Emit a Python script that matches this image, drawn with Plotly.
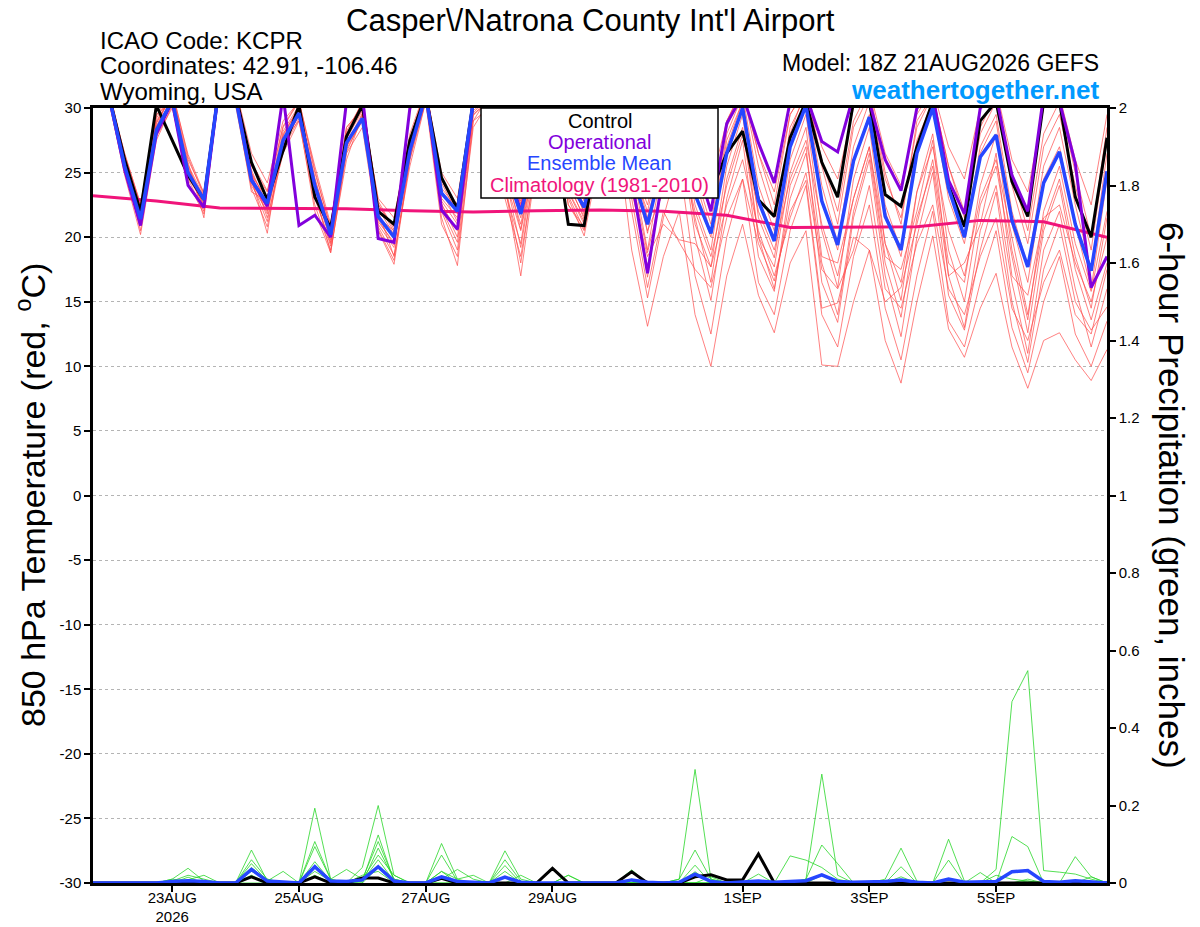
import pandas as pd
import plotly.graph_objects as go
from plotly.subplots import make_subplots

# 6-hourly GEFS times, 21AUG2026 18Z to 6SEP2026 18Z
times = pd.date_range("2026-08-21 18:00", periods=65, freq="6h")
clim_times = pd.date_range("2026-08-21 18:00", periods=17, freq="D")

# 850 hPa temperature (deg C)
t_control = [33.5, 31.0, 26.0, 22.0, 30.2, 27.5, 24.8, 22.9, 32.0, 31.0, 25.8, 22.9, 26.7, 30.2, 23.1, 20.7, 27.8,
             30.2, 22.0, 21.0, 27.5, 31.0, 24.6, 22.2, 30.5, 31.5, 26.5, 23.5, 27.5, 29.0, 21.0, 20.9, 28.0,
             30.0, 26.5, 23.5, 27.0, 30.0, 26.5, 23.5, 26.5, 28.2, 22.9, 21.6, 27.7, 30.5, 25.8, 23.1, 30.5,
             30.5, 23.3, 22.4, 27.0, 30.5, 24.0, 20.8, 29.0, 30.5, 24.3, 21.6, 30.5, 30.5, 23.1, 20.0, 27.7]
t_oper = [33.0, 31.0, 25.2, 20.9, 28.0, 30.5, 24.0, 22.3, 32.0, 31.0, 24.5, 22.4, 31.0, 20.9, 21.7, 20.0, 30.5,
          31.0, 19.9, 19.6, 30.0, 31.5, 22.1, 20.6, 30.5, 31.0, 26.0, 22.0, 27.0, 30.0, 26.0, 24.0, 28.0,
          30.0, 24.5, 17.2, 25.0, 30.0, 26.0, 22.0, 28.8, 31.0, 27.3, 24.2, 30.5, 31.0, 27.4, 26.6, 31.0,
          30.5, 26.0, 23.6, 30.0, 31.0, 24.4, 21.8, 30.0, 31.0, 24.8, 22.0, 31.0, 30.5, 25.7, 16.1, 18.5]
t_mean = [33.0, 31.0, 25.5, 21.4, 28.3, 30.6, 25.0, 22.9, 32.0, 30.8, 24.4, 22.6, 27.5, 29.6, 24.0, 20.2, 27.3,
          29.2, 21.6, 20.0, 26.7, 31.0, 23.4, 22.0, 30.5, 31.0, 25.5, 21.8, 27.0, 30.5, 24.5, 22.3, 27.5,
          30.0, 25.0, 21.0, 26.0, 29.5, 23.3, 20.3, 26.5, 30.0, 22.8, 19.7, 27.0, 30.2, 22.8, 19.4, 25.9,
          29.3, 21.6, 19.0, 26.5, 30.0, 23.8, 20.0, 26.2, 27.9, 21.3, 17.7, 24.2, 26.6, 21.0, 17.4, 25.1]
t_clim = [23.2, 22.8, 22.25, 22.25, 22.2, 22.05, 21.95, 22.05, 22.1, 22.0, 21.7, 20.75, 20.8, 20.8, 21.3, 21.2, 20.0]

t_m01 = [33.5, 31.5, 26.0, 22.0, 29.0, 31.0, 26.0, 23.4, 32.5, 31.5, 25.5, 23.5, 28.5, 30.5, 25.0, 20.8, 28.0,
         30.5, 22.5, 20.8, 27.5, 31.5, 24.5, 22.5, 31.0, 31.5, 27.0, 23.0, 28.5, 31.0, 26.0, 23.5, 28.5,
         31.5, 27.0, 23.5, 28.5, 31.5, 27.0, 24.0, 29.0, 31.5, 26.5, 23.5, 29.5, 31.5, 27.0, 24.5, 30.0,
         31.5, 26.5, 24.0, 29.5, 31.5, 27.0, 24.5, 30.0, 31.5, 26.0, 23.5, 30.0, 31.0, 26.0, 22.5, 29.5]
t_m02 = [33.0, 30.5, 25.0, 21.0, 28.0, 30.5, 25.5, 22.8, 32.0, 30.5, 24.0, 22.0, 27.0, 29.5, 23.0, 19.5, 27.0,
         29.0, 21.0, 19.2, 26.5, 30.5, 22.5, 20.5, 29.5, 30.5, 24.5, 20.5, 26.5, 30.0, 23.5, 21.0, 27.0,
         29.0, 19.0, 13.1, 18.5, 22.0, 14.0, 10.0, 17.0, 21.0, 15.5, 12.6, 18.0, 20.5, 10.1, 10.0, 15.0,
         19.0, 12.0, 8.7, 15.0, 20.1, 12.9, 10.7, 14.5, 17.2, 11.5, 8.3, 12.0, 12.6, 10.5, 8.9, 11.3]
t_m03 = [32.5, 31.0, 26.5, 22.5, 27.8, 30.0, 24.5, 22.0, 31.5, 31.0, 25.0, 21.5, 26.5, 29.0, 22.5, 19.0, 26.0,
         29.5, 22.0, 18.5, 26.0, 31.0, 21.5, 17.8, 29.0, 31.0, 23.5, 19.5, 27.5, 30.5, 22.5, 20.5, 27.5,
         30.5, 24.0, 17.7, 24.5, 28.5, 20.0, 15.1, 23.0, 27.5, 18.5, 15.8, 24.0, 27.0, 16.5, 13.4, 21.5,
         26.0, 17.0, 12.3, 20.0, 25.0, 15.5, 12.8, 19.0, 23.5, 15.0, 10.3, 17.5, 21.0, 15.0, 12.8, 14.6]
t_m04 = [34.0, 31.5, 25.5, 20.5, 28.5, 31.5, 25.0, 23.2, 32.5, 31.0, 24.5, 20.3, 28.0, 30.0, 24.5, 20.5, 28.5,
         30.0, 21.5, 20.5, 27.0, 31.5, 23.0, 21.5, 30.0, 31.5, 25.5, 21.5, 27.0, 31.0, 24.5, 22.0, 28.0,
         31.0, 25.5, 19.0, 26.0, 30.5, 22.5, 19.0, 27.0, 30.5, 21.5, 18.4, 26.0, 29.5, 20.5, 16.1, 24.5,
         28.5, 19.5, 15.1, 23.5, 28.0, 19.0, 15.0, 22.5, 25.5, 18.5, 12.6, 20.5, 24.0, 17.5, 13.6, 18.0]
t_m05 = [33.0, 31.0, 25.0, 21.8, 29.5, 30.5, 25.8, 21.5, 32.0, 30.5, 23.5, 22.8, 27.5, 29.0, 23.5, 18.8, 26.5,
         28.5, 20.5, 17.9, 26.0, 30.5, 22.0, 19.0, 29.0, 30.0, 24.0, 17.0, 26.0, 29.5, 23.0, 20.1, 26.5,
         30.5, 23.0, 16.1, 22.0, 19.6, 17.5, 16.1, 21.5, 24.5, 19.5, 16.6, 22.0, 24.4, 14.5, 14.9, 20.0,
         19.0, 15.0, 16.1, 21.0, 26.0, 18.0, 16.5, 24.0, 28.0, 19.0, 13.6, 22.0, 25.5, 19.5, 15.8, 22.0]
t_m06 = [33.5, 30.8, 26.2, 22.4, 28.8, 31.0, 24.8, 22.5, 32.0, 31.5, 26.5, 24.2, 29.0, 30.5, 25.5, 21.0, 28.5,
         30.0, 23.0, 21.5, 28.0, 31.5, 25.0, 23.0, 30.5, 31.5, 26.5, 22.5, 28.0, 30.5, 25.5, 22.8, 28.0,
         31.5, 26.5, 20.3, 27.0, 30.5, 24.5, 20.3, 28.0, 31.0, 24.0, 20.5, 28.5, 31.0, 24.0, 19.6, 27.0,
         30.5, 22.5, 19.0, 27.5, 30.5, 24.0, 20.0, 27.0, 29.5, 22.0, 17.7, 25.5, 28.5, 22.5, 17.5, 26.5]
t_m07 = [32.8, 30.6, 24.8, 20.2, 27.5, 30.2, 24.2, 21.8, 31.8, 30.2, 23.8, 20.8, 26.8, 29.2, 22.0, 18.8, 27.0,
         29.5, 20.8, 18.6, 25.5, 30.5, 21.0, 18.5, 28.5, 30.5, 23.0, 18.5, 26.0, 30.0, 22.5, 20.8, 27.0,
         30.0, 24.5, 16.9, 25.0, 29.0, 21.0, 17.7, 25.5, 29.5, 20.0, 17.7, 25.0, 28.5, 18.5, 18.0, 23.0,
         27.0, 18.5, 17.5, 22.0, 27.5, 17.0, 18.0, 21.0, 26.5, 17.0, 15.5, 21.5, 22.5, 18.0, 15.0, 20.0]
t_m08 = [33.2, 31.2, 25.8, 21.6, 28.2, 30.8, 25.3, 23.0, 32.2, 31.2, 24.8, 23.0, 28.2, 30.2, 24.2, 20.0, 27.6,
         29.8, 22.2, 20.2, 27.2, 31.2, 23.8, 22.2, 30.2, 31.2, 25.8, 22.2, 27.8, 30.8, 24.8, 22.5, 28.2,
         31.5, 25.5, 22.0, 27.5, 31.0, 25.0, 21.0, 28.5, 31.5, 25.5, 21.5, 28.0, 31.5, 25.5, 21.0, 28.5,
         31.0, 24.5, 21.5, 28.5, 31.0, 25.5, 21.5, 28.0, 30.5, 24.0, 19.5, 27.0, 29.5, 24.0, 19.0, 27.5]
t_m09 = [33.0, 30.8, 25.2, 21.2, 28.0, 30.4, 24.6, 22.6, 31.8, 30.6, 24.2, 22.2, 27.2, 29.4, 23.5, 19.8, 26.8,
         29.0, 21.2, 19.6, 26.4, 30.8, 22.8, 21.0, 29.8, 30.8, 25.0, 21.0, 27.0, 30.2, 24.0, 21.6, 27.6,
         30.0, 23.5, 18.5, 21.0, 19.8, 19.5, 17.7, 22.5, 26.0, 20.5, 17.0, 21.5, 25.0, 17.5, 16.0, 19.0,
         24.0, 16.0, 14.5, 19.5, 22.5, 16.0, 14.0, 18.5, 21.5, 14.5, 12.0, 16.5, 19.0, 14.0, 12.5, 17.5]
t_m10 = [33.8, 31.4, 26.4, 22.6, 29.2, 31.2, 26.4, 23.4, 32.6, 31.6, 25.2, 22.4, 27.8, 30.0, 23.8, 20.4, 27.8,
         30.2, 22.8, 20.6, 27.6, 31.4, 24.2, 21.8, 30.4, 31.4, 26.2, 22.8, 28.6, 31.0, 25.2, 21.8, 28.4,
         31.0, 26.0, 21.5, 26.5, 30.0, 23.5, 20.0, 27.5, 30.5, 23.0, 20.0, 27.5, 30.5, 23.0, 19.0, 26.0,
         29.5, 22.0, 18.5, 26.5, 30.0, 23.0, 19.5, 26.5, 29.0, 21.0, 16.5, 24.5, 27.0, 21.0, 16.0, 24.5]
t_m11 = [33.2, 30.9, 25.6, 21.0, 28.6, 30.7, 25.2, 22.2, 32.1, 30.9, 24.6, 21.8, 27.4, 29.8, 24.2, 19.6, 27.2,
         29.6, 21.4, 19.4, 26.8, 31.0, 22.6, 20.0, 29.6, 31.0, 24.8, 19.2, 26.6, 30.4, 23.6, 21.2, 27.2,
         30.5, 25.0, 20.5, 23.5, 27.0, 22.0, 18.5, 24.0, 28.0, 22.0, 19.0, 24.5, 27.5, 21.0, 17.0, 23.0,
         27.0, 19.5, 16.5, 23.5, 27.0, 20.5, 17.0, 23.0, 26.0, 20.0, 14.0, 21.0, 24.5, 18.5, 14.5, 21.5]
t_m12 = [33.6, 31.2, 26.0, 22.2, 29.4, 31.4, 26.2, 23.2, 32.4, 31.4, 25.8, 23.6, 28.6, 30.6, 25.2, 20.6, 28.2,
         30.4, 22.6, 20.4, 27.4, 31.6, 24.4, 22.4, 30.8, 31.6, 26.4, 22.6, 28.4, 31.2, 25.6, 23.0, 28.6,
         31.5, 26.0, 22.5, 28.0, 31.5, 25.5, 22.0, 29.0, 31.5, 26.5, 22.5, 29.5, 31.5, 26.0, 22.0, 29.0,
         31.5, 25.0, 21.0, 29.0, 31.0, 25.5, 22.0, 28.5, 31.0, 25.0, 20.5, 28.0, 30.5, 25.0, 20.0, 28.5]
t_m13 = [33.1, 30.7, 25.4, 21.6, 28.4, 30.6, 25.1, 22.4, 31.9, 30.7, 24.3, 21.2, 27.1, 29.5, 23.3, 19.3, 26.6,
         29.3, 20.6, 18.2, 26.2, 30.9, 22.2, 19.6, 29.4, 30.9, 24.2, 18.0, 26.3, 30.1, 23.2, 20.6, 27.3,
         29.5, 22.0, 15.3, 21.5, 26.0, 17.0, 12.5, 20.0, 24.5, 16.5, 14.0, 20.5, 24.0, 14.0, 11.5, 18.5,
         22.5, 14.5, 10.5, 17.0, 22.0, 13.5, 11.5, 16.5, 20.5, 13.0, 9.5, 15.0, 18.5, 12.5, 10.0, 13.5]
t_m14 = [33.4, 31.1, 25.9, 21.9, 28.9, 30.9, 25.6, 23.1, 32.3, 31.1, 25.0, 22.6, 27.9, 30.1, 24.6, 20.3, 27.9,
         29.9, 21.8, 19.9, 27.1, 31.3, 23.6, 21.2, 30.1, 31.2, 25.4, 20.6, 27.4, 30.6, 24.3, 21.4, 27.9,
         30.5, 24.5, 18.8, 24.0, 27.5, 21.5, 16.5, 24.5, 28.5, 20.0, 16.0, 23.0, 26.5, 18.0, 14.0, 22.0,
         26.5, 18.0, 13.8, 21.5, 25.5, 17.0, 13.0, 20.5, 24.0, 16.5, 11.0, 19.0, 22.0, 16.0, 11.5, 16.0]

# 6-hour precipitation (inches)
p_control = [0, 0, 0, 0, 0, 0, 0, 0, 0, 0, 0.016, 0, 0, 0, 0.016, 0, 0,
             0.013, 0.013, 0, 0, 0, 0.012, 0, 0, 0, 0, 0, 0, 0.038, 0, 0, 0,
             0, 0.029, 0, 0, 0, 0.016, 0.021, 0.008, 0.008, 0.075, 0, 0, 0, 0, 0, 0,
             0, 0, 0, 0, 0, 0, 0, 0, 0, 0, 0, 0, 0, 0, 0, 0]
p_mean = [0, 0, 0, 0, 0, 0.004, 0.006, 0.004, 0, 0, 0.035, 0.005, 0.003, 0, 0.042, 0.005, 0.004,
          0.008, 0.042, 0.005, 0, 0, 0.016, 0.004, 0.002, 0, 0.015, 0.002, 0, 0, 0.002, 0, 0,
          0, 0.008, 0.002, 0, 0.002, 0.023, 0.004, 0, 0.002, 0.005, 0.002, 0.004, 0.006, 0.021, 0.004, 0.002,
          0.002, 0.004, 0.008, 0.002, 0, 0.01, 0.002, 0.002, 0.004, 0.029, 0.032, 0.004, 0.002, 0.006, 0.004, 0]
p_m01 = [0, 0, 0, 0, 0, 0, 0, 0, 0, 0, 0.085, 0.005, 0, 0, 0.193, 0.01, 0,
         0.005, 0.124, 0.005, 0, 0, 0.03, 0, 0, 0, 0, 0, 0, 0, 0, 0, 0,
         0, 0, 0, 0, 0.01, 0.293, 0.01, 0, 0, 0, 0, 0, 0, 0, 0, 0,
         0, 0, 0, 0, 0, 0, 0, 0, 0, 0, 0, 0, 0, 0, 0, 0]
p_m02 = [0, 0, 0, 0, 0, 0.01, 0.038, 0.005, 0, 0, 0.06, 0.01, 0, 0, 0.107, 0.01, 0,
         0.04, 0.2, 0.02, 0, 0, 0.102, 0.01, 0, 0, 0.06, 0.005, 0, 0, 0, 0, 0,
         0, 0.01, 0, 0, 0, 0, 0, 0, 0, 0, 0, 0, 0, 0, 0, 0,
         0, 0, 0, 0, 0, 0, 0, 0, 0, 0, 0.005, 0, 0, 0, 0, 0]
p_m03 = [0, 0, 0, 0, 0, 0.01, 0.005, 0, 0, 0, 0.05, 0.005, 0, 0, 0.094, 0.01, 0.035,
         0.01, 0.107, 0.01, 0, 0, 0.072, 0.005, 0, 0, 0.083, 0.01, 0, 0, 0, 0, 0,
         0, 0, 0, 0, 0, 0, 0, 0, 0, 0, 0, 0, 0.01, 0.281, 0.02, 0,
         0, 0, 0, 0, 0, 0, 0, 0, 0, 0, 0, 0, 0, 0, 0, 0]
p_m04 = [0, 0, 0, 0, 0, 0, 0.008, 0.02, 0, 0, 0.04, 0.005, 0.03, 0, 0.055, 0.005, 0,
         0, 0.09, 0.01, 0, 0, 0.01, 0.035, 0.01, 0, 0.045, 0, 0, 0, 0, 0, 0,
         0, 0, 0, 0, 0, 0, 0, 0, 0, 0, 0, 0.07, 0.059, 0.04, 0.01, 0,
         0, 0, 0, 0, 0, 0, 0, 0, 0.035, 0.468, 0.548, 0.032, 0.028, 0.023, 0.01, 0]
p_m05 = [0, 0, 0, 0, 0, 0.005, 0.02, 0.01, 0, 0, 0.03, 0.01, 0, 0, 0.046, 0.005, 0,
         0.01, 0.072, 0.02, 0, 0, 0.03, 0.01, 0.02, 0, 0.03, 0, 0, 0, 0, 0, 0,
         0, 0, 0, 0, 0.01, 0.085, 0.01, 0, 0, 0, 0, 0, 0, 0, 0, 0,
         0, 0.01, 0.09, 0.005, 0, 0.113, 0.005, 0, 0, 0, 0, 0, 0, 0, 0, 0]
p_m06 = [0, 0, 0, 0, 0, 0, 0, 0, 0, 0, 0.02, 0, 0, 0, 0.03, 0.005, 0,
         0.005, 0.06, 0.005, 0, 0, 0, 0, 0, 0, 0, 0, 0, 0, 0.02, 0, 0,
         0, 0.034, 0, 0, 0, 0.046, 0, 0, 0, 0, 0, 0, 0.01, 0.098, 0.05, 0,
         0, 0, 0.042, 0, 0, 0.059, 0, 0, 0, 0.12, 0.094, 0, 0, 0.068, 0.016, 0]
p_m07 = [0, 0, 0, 0, 0, 0, 0, 0, 0, 0, 0, 0, 0, 0, 0.02, 0, 0,
         0, 0.04, 0, 0, 0, 0, 0, 0, 0, 0, 0.02, 0, 0, 0, 0, 0,
         0, 0, 0, 0, 0, 0.029, 0, 0, 0, 0.023, 0, 0, 0, 0, 0, 0,
         0, 0, 0.016, 0, 0, 0, 0, 0, 0.02, 0.01, 0.005, 0, 0, 0, 0.016, 0]
p_m08 = [0, 0, 0, 0, 0, 0, 0.015, 0, 0, 0, 0.015, 0, 0, 0, 0.015, 0, 0,
         0.02, 0.03, 0, 0, 0, 0.015, 0, 0, 0, 0, 0, 0, 0, 0.02, 0, 0,
         0, 0, 0, 0, 0, 0, 0.016, 0, 0, 0, 0, 0, 0, 0.02, 0, 0,
         0, 0, 0, 0, 0, 0, 0, 0.027, 0, 0, 0.01, 0, 0, 0, 0, 0]

tick_dates = ["2026-08-23", "2026-08-25", "2026-08-27", "2026-08-29", "2026-09-01", "2026-09-03", "2026-09-05"]
tick_text = ["23AUG<br>2026", "25AUG", "27AUG", "29AUG", "1SEP", "3SEP", "5SEP"]
temp_ticks = list(range(-30, 31, 5))
precip_ticks = [0, 0.2, 0.4, 0.6, 0.8, 1, 1.2, 1.4, 1.6, 1.8, 2]

temp_members = [t_m01, t_m02, t_m03, t_m04, t_m05, t_m06, t_m07, t_m08, t_m09, t_m10, t_m11, t_m12, t_m13, t_m14]
precip_members = [p_m01, p_m02, p_m03, p_m04, p_m05, p_m06, p_m07, p_m08]

FONT = "Liberation Sans, Arial, Helvetica, sans-serif"
PURPLE = '#8200DC'
BLUE = '#2646FF'
PINK = '#F0147A'

fig = make_subplots(specs=[[{"secondary_y": True}]])

for m in temp_members:
    fig.add_trace(go.Scatter(x=times, y=m, mode='lines', line=dict(color='rgb(255,75,75)', width=0.7),
                             showlegend=False, hoverinfo='skip'), secondary_y=False)
for m in precip_members:
    fig.add_trace(go.Scatter(x=times, y=m, mode='lines', line=dict(color='rgb(40,215,40)', width=0.8),
                             showlegend=False, hoverinfo='skip'), secondary_y=True)

fig.add_trace(go.Scatter(x=clim_times, y=t_clim, mode='lines', line=dict(color=PINK, width=3),
                         showlegend=False), secondary_y=False)
fig.add_trace(go.Scatter(x=times, y=t_control, mode='lines', line=dict(color='black', width=3),
                         showlegend=False), secondary_y=False)
fig.add_trace(go.Scatter(x=times, y=t_oper, mode='lines', line=dict(color=PURPLE, width=3),
                         showlegend=False), secondary_y=False)
fig.add_trace(go.Scatter(x=times, y=t_mean, mode='lines', line=dict(color=BLUE, width=3.5),
                         showlegend=False), secondary_y=False)
fig.add_trace(go.Scatter(x=times, y=p_control, mode='lines', line=dict(color='black', width=3),
                         showlegend=False), secondary_y=True)
fig.add_trace(go.Scatter(x=times, y=p_mean, mode='lines', line=dict(color=BLUE, width=3.5),
                         showlegend=False), secondary_y=True)

fig.update_xaxes(type='date', domain=[0, 1], range=[times[0], times[-1]], tickvals=tick_dates, ticktext=tick_text,
                 ticks='outside', ticklen=6, tickwidth=1.5, tickcolor='black', showgrid=False,
                 ticklabelstandoff=-7,
                 showline=True, linewidth=2.5, linecolor='black', mirror=True, automargin=False,
                 tickfont=dict(size=15, color='black'))
fig.update_yaxes(range=[-30, 30], tickvals=temp_ticks, ticktext=[str(v) for v in temp_ticks],
                 ticks='outside', ticklen=6, tickwidth=1.5, tickcolor='black',
                 showgrid=True, gridcolor='#b4b4b4', griddash='dot', gridwidth=1, zeroline=False,
                 showline=True, linewidth=2.5, linecolor='black', automargin=False,
                 tickfont=dict(size=15, color='black'), secondary_y=False)
fig.update_yaxes(range=[0, 2], tickvals=precip_ticks, ticktext=[f"{v:g}" for v in precip_ticks],
                 ticks='outside', ticklen=6, tickwidth=1.5, tickcolor='black', showgrid=False, zeroline=False,
                 showline=True, linewidth=2.5, linecolor='black', automargin=False,
                 tickfont=dict(size=15, color='black'), secondary_y=True)


# positions below are given in screen pixels of the 1200x927 picture (plot box 93..1107, 108..883)
def px(x):
    return (x - 93) / 1014


def py(y):
    return (883 - y) / 775


notes = [
    dict(text="Casper\\/Natrona County Int'l Airport", x=px(590), y=py(21), xanchor='center', size=31, color='black'),
    dict(text="ICAO Code: KCPR", x=px(98), y=py(40), xanchor='left', size=24, color='black'),
    dict(text="Coordinates: 42.91, -106.46", x=px(98), y=py(66), xanchor='left', size=24, color='black'),
    dict(text="Wyoming, USA", x=px(98), y=py(92), xanchor='left', size=24, color='black'),
    dict(text="Model: 18Z 21AUG2026 GEFS", x=px(1101), y=py(63), xanchor='right', size=23, color='black'),
    dict(text="<b>weathertogether.net</b>", x=px(1101), y=py(90), xanchor='right', size=26, color='#0099FF'),
]
for n in notes:
    fig.add_annotation(text=n['text'], x=n['x'], y=n['y'], xref='paper', yref='paper', xanchor=n['xanchor'],
                       yanchor='middle', showarrow=False, font=dict(size=n['size'], color=n['color'], family=FONT))

fig.add_annotation(text="850 hPa Temperature (red, <sup>o</sup>C)", x=px(30), y=py(495), xref='paper',
                   yref='paper', xanchor='center', yanchor='middle', textangle=-90, showarrow=False,
                   font=dict(size=34, color='black', family=FONT))
fig.add_annotation(text="6-hour Precipitation (green, inches)", x=px(1172), y=py(495), xref='paper',
                   yref='paper', xanchor='center', yanchor='middle', textangle=90, showarrow=False,
                   font=dict(size=35, color='black', family=FONT))

# legend box
fig.add_shape(type='rect', xref='paper', yref='paper', x0=px(481), x1=px(718), y0=py(198), y1=1,
              fillcolor='white', line=dict(color='black', width=1.5), layer='above')
legend_items = [("Control", 'black', 121), ("Operational", PURPLE, 142),
                ("Ensemble Mean", BLUE, 163), ("Climatology (1981-2010)", PINK, 185)]
for label, col, ypos in legend_items:
    fig.add_annotation(text=label, x=px(599.5), y=py(ypos), xref='paper', yref='paper', xanchor='center',
                       yanchor='middle', showarrow=False, font=dict(size=20, color=col, family=FONT))

# the page adds an 8px body margin, so the figure is 8px smaller and the margins shifted by 8px
fig.update_layout(width=1192, height=919, margin=dict(l=85, r=93, t=100, b=44, autoexpand=False),
                  plot_bgcolor='white', paper_bgcolor='white', showlegend=False,
                  font=dict(family=FONT, color='black'))

fig.write_html("out.html")
